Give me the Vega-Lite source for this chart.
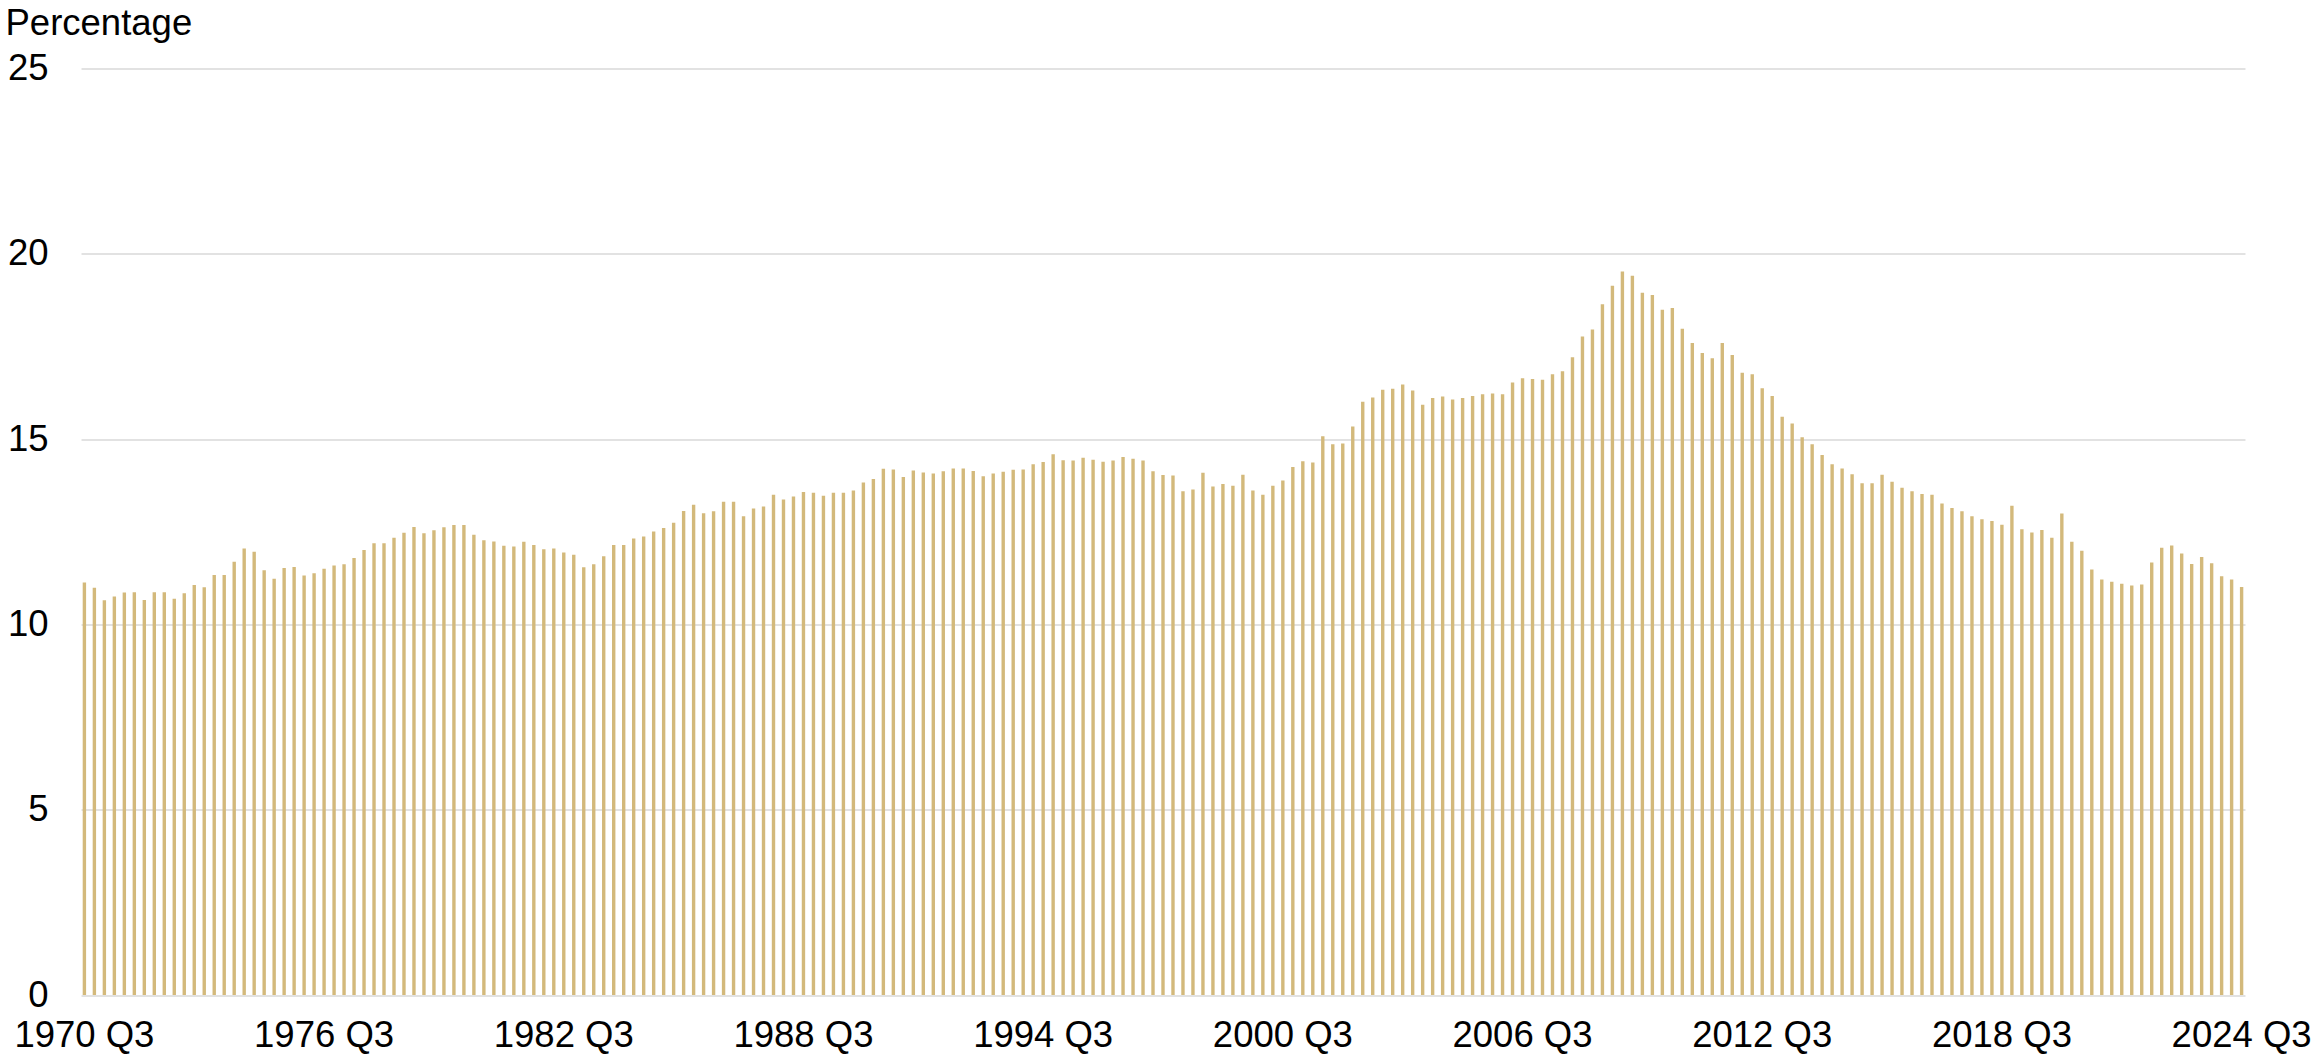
{
 "$schema": "https://vega.github.io/schema/vega-lite/v6.json",
 "width": 2164,
 "height": 926.5,
 "autosize": "none",
 "padding": {"left": 81, "top": 68.5, "right": 70, "bottom": 62},
 "background": "#ffffff",
 "config": {"view": {"stroke": null}, "font": "Liberation Sans"},
 "data": {"values": [
{"q":"1970 Q3","v":11.13},{"q":"1970 Q4","v":10.99},
{"q":"1971 Q1","v":10.65},{"q":"1971 Q2","v":10.75},{"q":"1971 Q3","v":10.86},{"q":"1971 Q4","v":10.87},
{"q":"1972 Q1","v":10.66},{"q":"1972 Q2","v":10.87},{"q":"1972 Q3","v":10.87},{"q":"1972 Q4","v":10.69},
{"q":"1973 Q1","v":10.84},{"q":"1973 Q2","v":11.06},{"q":"1973 Q3","v":11.00},{"q":"1973 Q4","v":11.33},
{"q":"1974 Q1","v":11.33},{"q":"1974 Q2","v":11.69},{"q":"1974 Q3","v":12.05},{"q":"1974 Q4","v":11.96},
{"q":"1975 Q1","v":11.46},{"q":"1975 Q2","v":11.23},{"q":"1975 Q3","v":11.52},{"q":"1975 Q4","v":11.55},
{"q":"1976 Q1","v":11.32},{"q":"1976 Q2","v":11.38},{"q":"1976 Q3","v":11.50},{"q":"1976 Q4","v":11.59},
{"q":"1977 Q1","v":11.62},{"q":"1977 Q2","v":11.79},{"q":"1977 Q3","v":12.01},{"q":"1977 Q4","v":12.19},
{"q":"1978 Q1","v":12.19},{"q":"1978 Q2","v":12.34},{"q":"1978 Q3","v":12.47},{"q":"1978 Q4","v":12.63},
{"q":"1979 Q1","v":12.46},{"q":"1979 Q2","v":12.54},{"q":"1979 Q3","v":12.62},{"q":"1979 Q4","v":12.68},
{"q":"1980 Q1","v":12.68},{"q":"1980 Q2","v":12.42},{"q":"1980 Q3","v":12.27},{"q":"1980 Q4","v":12.24},
{"q":"1981 Q1","v":12.12},{"q":"1981 Q2","v":12.10},{"q":"1981 Q3","v":12.23},{"q":"1981 Q4","v":12.14},
{"q":"1982 Q1","v":12.03},{"q":"1982 Q2","v":12.05},{"q":"1982 Q3","v":11.94},{"q":"1982 Q4","v":11.88},
{"q":"1983 Q1","v":11.54},{"q":"1983 Q2","v":11.62},{"q":"1983 Q3","v":11.84},{"q":"1983 Q4","v":12.14},
{"q":"1984 Q1","v":12.14},{"q":"1984 Q2","v":12.32},{"q":"1984 Q3","v":12.37},{"q":"1984 Q4","v":12.51},
{"q":"1985 Q1","v":12.60},{"q":"1985 Q2","v":12.74},{"q":"1985 Q3","v":13.06},{"q":"1985 Q4","v":13.23},
{"q":"1986 Q1","v":13.00},{"q":"1986 Q2","v":13.05},{"q":"1986 Q3","v":13.31},{"q":"1986 Q4","v":13.31},
{"q":"1987 Q1","v":12.92},{"q":"1987 Q2","v":13.13},{"q":"1987 Q3","v":13.18},{"q":"1987 Q4","v":13.50},
{"q":"1988 Q1","v":13.37},{"q":"1988 Q2","v":13.45},{"q":"1988 Q3","v":13.57},{"q":"1988 Q4","v":13.55},
{"q":"1989 Q1","v":13.47},{"q":"1989 Q2","v":13.55},{"q":"1989 Q3","v":13.55},{"q":"1989 Q4","v":13.61},
{"q":"1990 Q1","v":13.83},{"q":"1990 Q2","v":13.92},{"q":"1990 Q3","v":14.20},{"q":"1990 Q4","v":14.18},
{"q":"1991 Q1","v":13.98},{"q":"1991 Q2","v":14.15},{"q":"1991 Q3","v":14.10},{"q":"1991 Q4","v":14.07},
{"q":"1992 Q1","v":14.13},{"q":"1992 Q2","v":14.21},{"q":"1992 Q3","v":14.21},{"q":"1992 Q4","v":14.14},
{"q":"1993 Q1","v":14.00},{"q":"1993 Q2","v":14.07},{"q":"1993 Q3","v":14.12},{"q":"1993 Q4","v":14.17},
{"q":"1994 Q1","v":14.18},{"q":"1994 Q2","v":14.32},{"q":"1994 Q3","v":14.38},{"q":"1994 Q4","v":14.59},
{"q":"1995 Q1","v":14.43},{"q":"1995 Q2","v":14.42},{"q":"1995 Q3","v":14.50},{"q":"1995 Q4","v":14.44},
{"q":"1996 Q1","v":14.39},{"q":"1996 Q2","v":14.42},{"q":"1996 Q3","v":14.52},{"q":"1996 Q4","v":14.47},
{"q":"1997 Q1","v":14.42},{"q":"1997 Q2","v":14.13},{"q":"1997 Q3","v":14.03},{"q":"1997 Q4","v":14.02},
{"q":"1998 Q1","v":13.59},{"q":"1998 Q2","v":13.64},{"q":"1998 Q3","v":14.09},{"q":"1998 Q4","v":13.72},
{"q":"1999 Q1","v":13.79},{"q":"1999 Q2","v":13.74},{"q":"1999 Q3","v":14.04},{"q":"1999 Q4","v":13.61},
{"q":"2000 Q1","v":13.50},{"q":"2000 Q2","v":13.74},{"q":"2000 Q3","v":13.88},{"q":"2000 Q4","v":14.25},
{"q":"2001 Q1","v":14.40},{"q":"2001 Q2","v":14.37},{"q":"2001 Q3","v":15.08},{"q":"2001 Q4","v":14.86},
{"q":"2002 Q1","v":14.88},{"q":"2002 Q2","v":15.34},{"q":"2002 Q3","v":16.01},{"q":"2002 Q4","v":16.12},
{"q":"2003 Q1","v":16.33},{"q":"2003 Q2","v":16.36},{"q":"2003 Q3","v":16.47},{"q":"2003 Q4","v":16.31},
{"q":"2004 Q1","v":15.93},{"q":"2004 Q2","v":16.11},{"q":"2004 Q3","v":16.15},{"q":"2004 Q4","v":16.07},
{"q":"2005 Q1","v":16.11},{"q":"2005 Q2","v":16.16},{"q":"2005 Q3","v":16.21},{"q":"2005 Q4","v":16.23},
{"q":"2006 Q1","v":16.21},{"q":"2006 Q2","v":16.53},{"q":"2006 Q3","v":16.64},{"q":"2006 Q4","v":16.62},
{"q":"2007 Q1","v":16.60},{"q":"2007 Q2","v":16.75},{"q":"2007 Q3","v":16.83},{"q":"2007 Q4","v":17.21},
{"q":"2008 Q1","v":17.77},{"q":"2008 Q2","v":17.96},{"q":"2008 Q3","v":18.64},{"q":"2008 Q4","v":19.14},
{"q":"2009 Q1","v":19.52},{"q":"2009 Q2","v":19.41},{"q":"2009 Q3","v":18.95},{"q":"2009 Q4","v":18.89},
{"q":"2010 Q1","v":18.49},{"q":"2010 Q2","v":18.54},{"q":"2010 Q3","v":17.98},{"q":"2010 Q4","v":17.59},
{"q":"2011 Q1","v":17.32},{"q":"2011 Q2","v":17.18},{"q":"2011 Q3","v":17.59},{"q":"2011 Q4","v":17.27},
{"q":"2012 Q1","v":16.79},{"q":"2012 Q2","v":16.75},{"q":"2012 Q3","v":16.37},{"q":"2012 Q4","v":16.16},
{"q":"2013 Q1","v":15.60},{"q":"2013 Q2","v":15.42},{"q":"2013 Q3","v":15.05},{"q":"2013 Q4","v":14.86},
{"q":"2014 Q1","v":14.57},{"q":"2014 Q2","v":14.32},{"q":"2014 Q3","v":14.21},{"q":"2014 Q4","v":14.05},
{"q":"2015 Q1","v":13.81},{"q":"2015 Q2","v":13.81},{"q":"2015 Q3","v":14.04},{"q":"2015 Q4","v":13.85},
{"q":"2016 Q1","v":13.69},{"q":"2016 Q2","v":13.59},{"q":"2016 Q3","v":13.52},{"q":"2016 Q4","v":13.50},
{"q":"2017 Q1","v":13.26},{"q":"2017 Q2","v":13.14},{"q":"2017 Q3","v":13.05},{"q":"2017 Q4","v":12.92},
{"q":"2018 Q1","v":12.84},{"q":"2018 Q2","v":12.79},{"q":"2018 Q3","v":12.69},{"q":"2018 Q4","v":13.20},
{"q":"2019 Q1","v":12.57},{"q":"2019 Q2","v":12.48},{"q":"2019 Q3","v":12.55},{"q":"2019 Q4","v":12.34},
{"q":"2020 Q1","v":12.99},{"q":"2020 Q2","v":12.23},{"q":"2020 Q3","v":11.99},{"q":"2020 Q4","v":11.48},
{"q":"2021 Q1","v":11.21},{"q":"2021 Q2","v":11.15},{"q":"2021 Q3","v":11.10},{"q":"2021 Q4","v":11.05},
{"q":"2022 Q1","v":11.08},{"q":"2022 Q2","v":11.67},{"q":"2022 Q3","v":12.07},{"q":"2022 Q4","v":12.13},
{"q":"2023 Q1","v":11.91},{"q":"2023 Q2","v":11.63},{"q":"2023 Q3","v":11.82},{"q":"2023 Q4","v":11.65},
{"q":"2024 Q1","v":11.30},{"q":"2024 Q2","v":11.21},{"q":"2024 Q3","v":11.01}
 ]},
 "mark": {"type": "bar", "color": "#D3B97B"},
 "encoding": {
  "x": {
   "field": "q", "type": "ordinal", "sort": null,
   "scale": {"paddingInner": 0.66, "paddingOuter": 0.17},
   "axis": {
    "values": ["1970 Q3","1976 Q3","1982 Q3","1988 Q3","1994 Q3","2000 Q3","2006 Q3","2012 Q3","2018 Q3","2024 Q3"],
    "labelAngle": 0, "ticks": false, "tickSize": 0, "domain": false, "grid": false,
    "labelFontSize": 36.5, "labelColor": "#000000", "labelPadding": 22,
    "labelOverlap": false, "title": null
   }
  },
  "y": {
   "field": "v", "type": "quantitative",
   "scale": {"domain": [0, 25], "nice": false},
   "axis": {
    "values": [0, 5, 10, 15, 20, 25],
    "title": "Percentage", "titleAngle": 0, "titleAlign": "left", "titleBaseline": "alphabetic",
    "titleX": -76, "titleY": -34, "titleFontSize": 36.5, "titleFontWeight": "normal", "titleColor": "#000000",
    "labelFontSize": 36.5, "labelColor": "#000000", "labelPadding": 33,
    "ticks": false, "domain": false,
    "gridColor": "#D9D9D9", "gridWidth": 1.5
   }
  }
 }
}
